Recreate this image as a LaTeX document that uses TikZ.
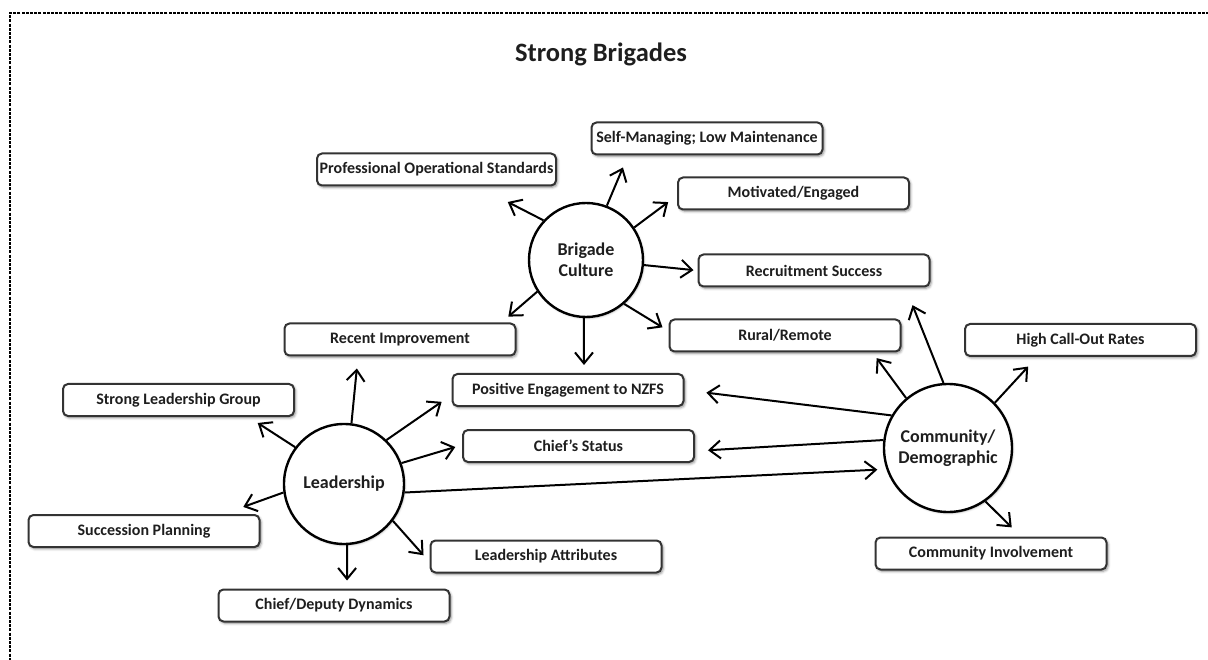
\documentclass[tikz,border=0pt]{standalone}
\usepackage{fontspec}
\setmainfont{Carlito}
\usetikzlibrary{arrows.meta,shadows.blur}
\definecolor{textcol}{HTML}{1E1E1E}
\definecolor{boxline}{HTML}{333333}
\begin{document}
\begin{tikzpicture}[x=1pt,y=-1pt,
  item/.style={draw=boxline, line width=2pt, rounded corners=5pt, fill=white,
    minimum width=231pt, minimum height=32pt, inner sep=0pt,
    font=\fontsize{16}{19}\selectfont\bfseries, text=textcol,
    blur shadow={shadow xshift=1.5pt, shadow yshift=-1.8pt, shadow blur radius=2.5pt, shadow opacity=45}},
  hub/.style={circle, draw=black, line width=2.4pt, fill=white, inner sep=0pt, align=center,
    font=\fontsize{18}{21}\selectfont\bfseries, text=textcol,
    blur shadow={shadow xshift=1pt, shadow yshift=-1.2pt, shadow blur radius=2pt, shadow opacity=30}},
  link/.style={-{Straight Barb[length=11pt,width=18pt]}, line width=2pt, shorten >=#1},
  link/.default=0pt
]
\useasboundingbox (0,0) rectangle (1208,660);

% dashed page frame
\draw[line width=2.4pt, dash pattern=on 3pt off 1.2pt] (1230,13) -- (10,13) -- (10,690);

% title
\node[font=\fontsize{26.5}{30}\selectfont\bfseries, text=textcol] (title) at (601,54) {Strong Brigades};

% hubs
\node[hub, minimum size=114pt] (bc) at (586,260) {Brigade\\Culture};
\node[hub, minimum size=120pt] (ld) at (344,484) {Leadership};
\node[hub, minimum size=128pt] (cd) at (948,448) {Community/\\Demographic};

% outcome boxes
\node[item, minimum width=239pt] (pro) at (436.5,169.5) {Professional Operational Standards};
\node[item] (sm)  at (707,138.5)   {Self-Managing; Low Maintenance};
\node[item] (mot) at (793.5,193.5) {Motivated/Engaged};
\node[item] (rec) at (814,270.5)   {Recruitment Success};
\node[item] (rur) at (785,335.5)   {Rural/Remote};
\node[item] (ri)  at (400,339.5)   {Recent Improvement};
\node[item] (pe)  at (568,390)     {Positive Engagement to NZFS};
\node[item] (cs)  at (578.5,446)   {Chief's Status};
\node[item] (slg) at (178.5,400)   {Strong Leadership Group};
\node[item] (sp)  at (144,531)     {Succession Planning};
\node[item] (cdd) at (334,605.5)   {Chief/Deputy Dynamics};
\node[item] (la)  at (546,556.5)   {Leadership Attributes};
\node[item] (hc)  at (1080.5,340)  {High Call-Out Rates};
\node[item] (ci)  at (991,553.5)   {Community Involvement};

% Brigade Culture links
\draw[link=34pt] (bc.137) -- ([xshift=41pt]pro.south);
\draw[link=13pt] (bc.69)  -- ([xshift=-79pt]sm.south);
\draw[link=11pt] (bc.34)  -- ([yshift=-2pt]mot.west);
\draw[link=4pt]  (bc.-5)  -- (rec.west);
\draw[link=7pt]  (bc.-49) -- ([yshift=4.5pt]rur.west);
\draw[link=9pt]  (bc.213) -- ([xshift=-15pt]ri.north east);
\draw[link=8pt]  (bc.-92) -- ([xshift=16pt]pe.north);

% Leadership links
\draw[link=12pt] (ld.83)   -- ([xshift=-42pt]ri.south);
\draw[link=11pt] (ld.143)  -- ([xshift=-46.5pt]slg.south east);
\draw[link=21pt] (ld.188)  -- ([xshift=-37pt]sp.north east);
\draw[link=8pt]  (ld.-87)  -- ([xshift=13pt]cdd.north);
\draw[link=9pt]  (ld.-37)  -- ([yshift=-5.5pt]la.west);
\draw[link=7pt]  (ld.20)   -- ([yshift=1pt]cs.west);
\draw[link=12pt] (ld.46)   -- ([yshift=-5pt]pe.west);
\draw[link=9pt]  (ld.-8)   -- (cd.199);

% Community/Demographic links
\draw[link=22pt] (cd.150)  -- (pe.east);
\draw[link=13pt] (cd.173)  -- ([yshift=-5pt]cs.east);
\draw[link=7pt]  (cd.130)  -- ([xshift=-29pt]rur.south east);
\draw[link=19pt] (cd.94)   -- ([xshift=-25pt]rec.south east);
\draw[link=13pt] (cd.44)   -- ([xshift=73pt]hc.south west);
\draw[link=13pt] (cd.-55)  -- ([xshift=30pt]ci.north);
\end{tikzpicture}
\end{document}
